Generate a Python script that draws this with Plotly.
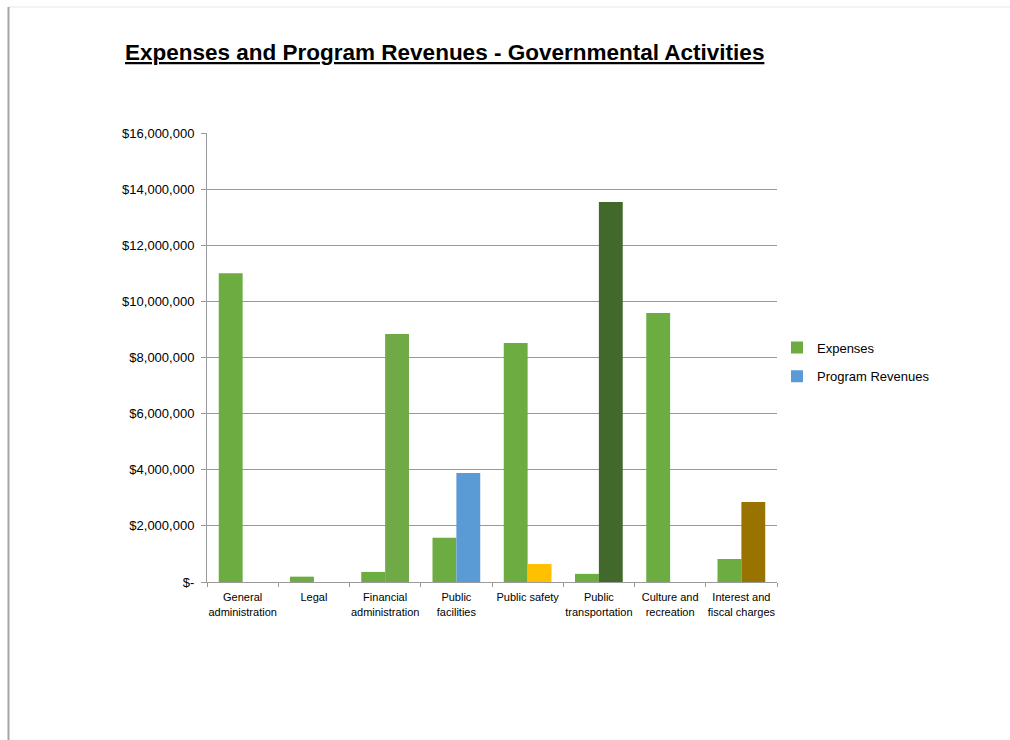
import plotly.graph_objects as go

categories = ["General<br>administration", "Legal", "Financial<br>administration", "Public<br>facilities",
              "Public safety", "Public<br>transportation", "Culture and<br>recreation", "Interest and<br>fiscal charges"]
expenses = [11000000, 190000, 360000, 1580000, 8520000, 290000, 9590000, 820000]
program_revenues = [0, 0, 8840000, 3880000, 640000, 13540000, 0, 2850000]
revenue_colors = ["#5b9bd5", "#5b9bd5", "#70aa47", "#5b9bd5", "#ffc000", "#43682b", "#5b9bd5", "#997300"]

tick_vals = [0, 2000000, 4000000, 6000000, 8000000, 10000000, 12000000, 14000000, 16000000]
tick_text = ["$-", "$2,000,000", "$4,000,000", "$6,000,000", "$8,000,000", "$10,000,000",
             "$12,000,000", "$14,000,000", "$16,000,000"]

FONT = "Liberation Sans, Arial, sans-serif"

fig = go.Figure()
fig.add_trace(go.Bar(name="Expenses", x=categories, y=expenses, legendgroup="a",
                     marker=dict(color="#6cac40", line=dict(width=0))))
fig.add_trace(go.Bar(name="Program Revenues", x=categories, y=program_revenues, legendgroup="b",
                     marker=dict(color=revenue_colors, line=dict(width=0))))

fig.update_layout(
    width=1010, height=740,
    margin=dict(l=207, r=233, t=133, b=158),
    paper_bgcolor="white", plot_bgcolor="white",
    barmode="group", bargap=0.33, bargroupgap=0,
    font=dict(family=FONT, color="#000000"),
    showlegend=True,
    legend=dict(x=(777 - 207) / 570, y=(582 - 362) / 449, xanchor="left", yanchor="middle",
                font=dict(size=13, family=FONT), bgcolor="rgba(0,0,0,0)",
                tracegroupgap=9, itemwidth=30),
    annotations=[dict(text="<b><u>Expenses and Program Revenues - Governmental Activities</u></b>",
                      xref="paper", yref="paper", x=(444 - 207) / 570, y=(582 - 52) / 449,
                      xanchor="center", yanchor="middle", showarrow=False,
                      font=dict(size=22.5, family=FONT, color="#000000"))],
    shapes=[
        dict(type="line", xref="paper", yref="paper", x0=(8.5 - 207) / 570, x1=(1010 - 207) / 570,
             y0=(582 - 7) / 449, y1=(582 - 7) / 449, line=dict(color="#e6e6e6", width=1)),
        dict(type="line", xref="paper", yref="paper", x0=(8.5 - 207) / 570, x1=(8.5 - 207) / 570,
             y0=(582 - 7) / 449, y1=(582 - 745) / 449, line=dict(color="#a6a6a6", width=2)),
    ],
)

fig.update_xaxes(showgrid=False, showline=True, linecolor="#9a9a9a", linewidth=1,
                 ticks="outside", tickson="boundaries", ticklen=4, tickcolor="#9a9a9a",
                 tickangle=0, ticklabelstandoff=5,
                 tickfont=dict(size=11, family=FONT, color="#000000"))
fig.update_yaxes(range=[0, 16000000], tickvals=tick_vals, ticktext=tick_text,
                 showgrid=True, gridcolor="#999999", gridwidth=1,
                 showline=True, linecolor="#9a9a9a", linewidth=1,
                 ticks="outside", ticklen=5, tickcolor="#9a9a9a", ticklabelstandoff=4,
                 tickfont=dict(size=13, family=FONT, color="#000000"), zeroline=False)

fig.write_html("out.html")
